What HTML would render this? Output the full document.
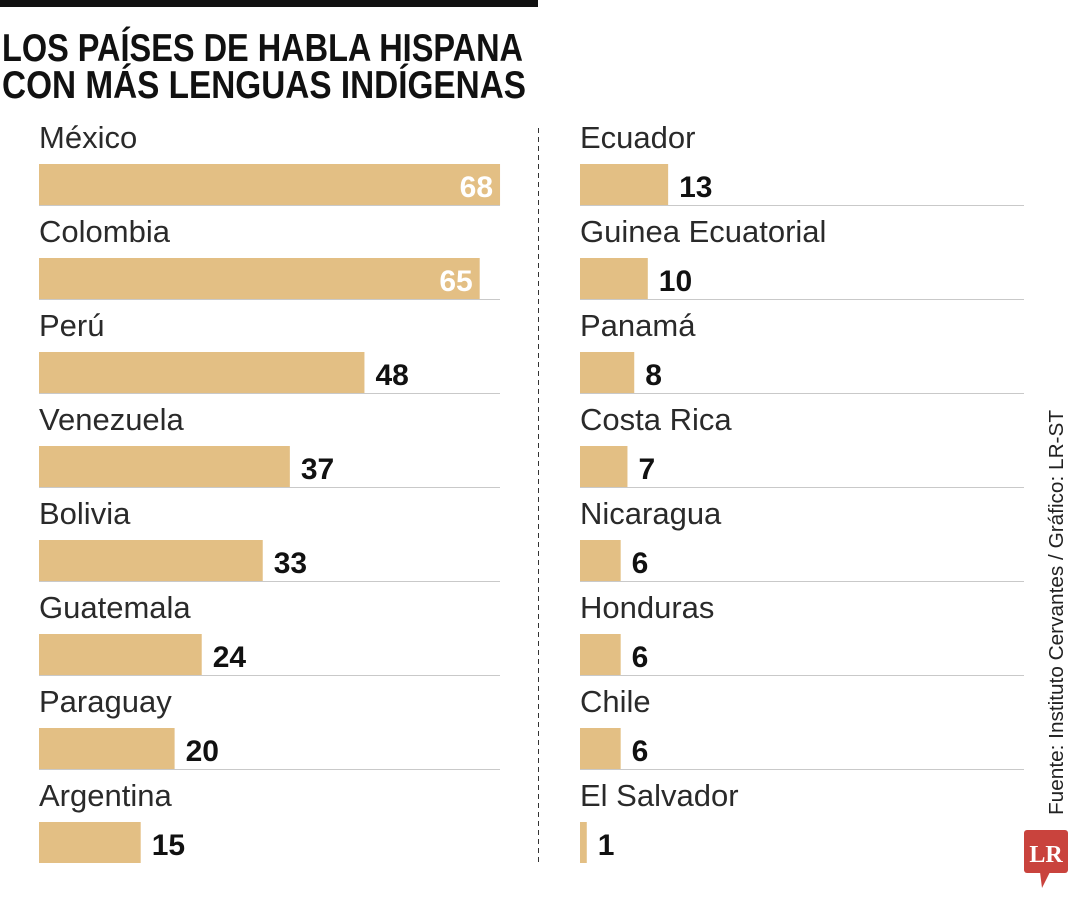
<!DOCTYPE html>
<html><head><meta charset="utf-8"><style>
html,body{margin:0;padding:0;background:#fff;width:1080px;height:900px;overflow:hidden}
svg{display:block;font-family:"Liberation Sans",sans-serif}
</style></head><body>
<svg id="chart" width="1080" height="900" viewBox="0 0 1080 900">
<rect x="0" y="0" width="538" height="7" fill="#111"/>
<text x="2" y="61" font-size="39" font-weight="bold" fill="#111" textLength="521" lengthAdjust="spacingAndGlyphs">LOS PAÍSES DE HABLA HISPANA</text>
<text x="2" y="98" font-size="39" font-weight="bold" fill="#111" textLength="524" lengthAdjust="spacingAndGlyphs">CON MÁS LENGUAS INDÍGENAS</text>
<line x1="538.5" y1="128" x2="538.5" y2="866" stroke="#333" stroke-width="1" stroke-dasharray="5,4"/>
<text transform="translate(1063,815) rotate(-90)" font-size="20" fill="#222" textLength="405" lengthAdjust="spacingAndGlyphs">Fuente: Instituto Cervantes / Gráfico: LR-ST</text>
<g>
<rect x="1024" y="830" width="44" height="43" rx="3" fill="#c9433d"/>
<polygon points="1040,872 1050,872 1042,888" fill="#c9433d"/>
<text x="1046" y="862" font-size="24" font-weight="bold" font-family="Liberation Serif,serif" fill="#fff" text-anchor="middle">LR</text>
</g>
<g id="bars"></g>
</svg>
<script>
const leftCountries = ["México","Colombia","Perú","Venezuela","Bolivia","Guatemala","Paraguay","Argentina"];
const leftValues = [68,65,48,37,33,24,20,15];
const rightCountries = ["Ecuador","Guinea Ecuatorial","Panamá","Costa Rica","Nicaragua","Honduras","Chile","El Salvador"];
const rightValues = [13,10,8,7,6,6,6,1];

const NS="http://www.w3.org/2000/svg";
const g=document.getElementById('bars');
const scale=v=>v*6.78;
function mk(tag,attrs){const e=document.createElementNS(NS,tag);for(const k in attrs)e.setAttribute(k,attrs[k]);g.appendChild(e);return e;}
function column(names,vals,x0,lineEnd){
  names.forEach((n,i)=>{
    const top=164+i*94;
    const lab=mk('text',{x:x0,y:top-16,'font-size':31,fill:'#2a2a2a'});
    lab.textContent=n;
    
    
    const w=scale(vals[i]);
    const r=mk('rect',{x:x0,y:top,width:w,height:41,fill:'#e3bf84'});
    
    
    if(i<names.length-1){
      const l=mk('line',{x1:x0,y1:top+41.5,x2:lineEnd,y2:top+41.5,stroke:'#c9c9c9','stroke-width':1});
      
      
    }
    const inside=vals[i]>=60;
    const t=mk('text',{x:inside?x0+w-7:x0+w+11,y:top+33,'font-size':30,'font-weight':'bold',fill:inside?'#fff':'#111','text-anchor':inside?'end':'start'});
    t.textContent=vals[i];
    
    
  });
}
column(leftCountries,leftValues,39,500);
column(rightCountries,rightValues,580,1024);
</script>
</body></html>
